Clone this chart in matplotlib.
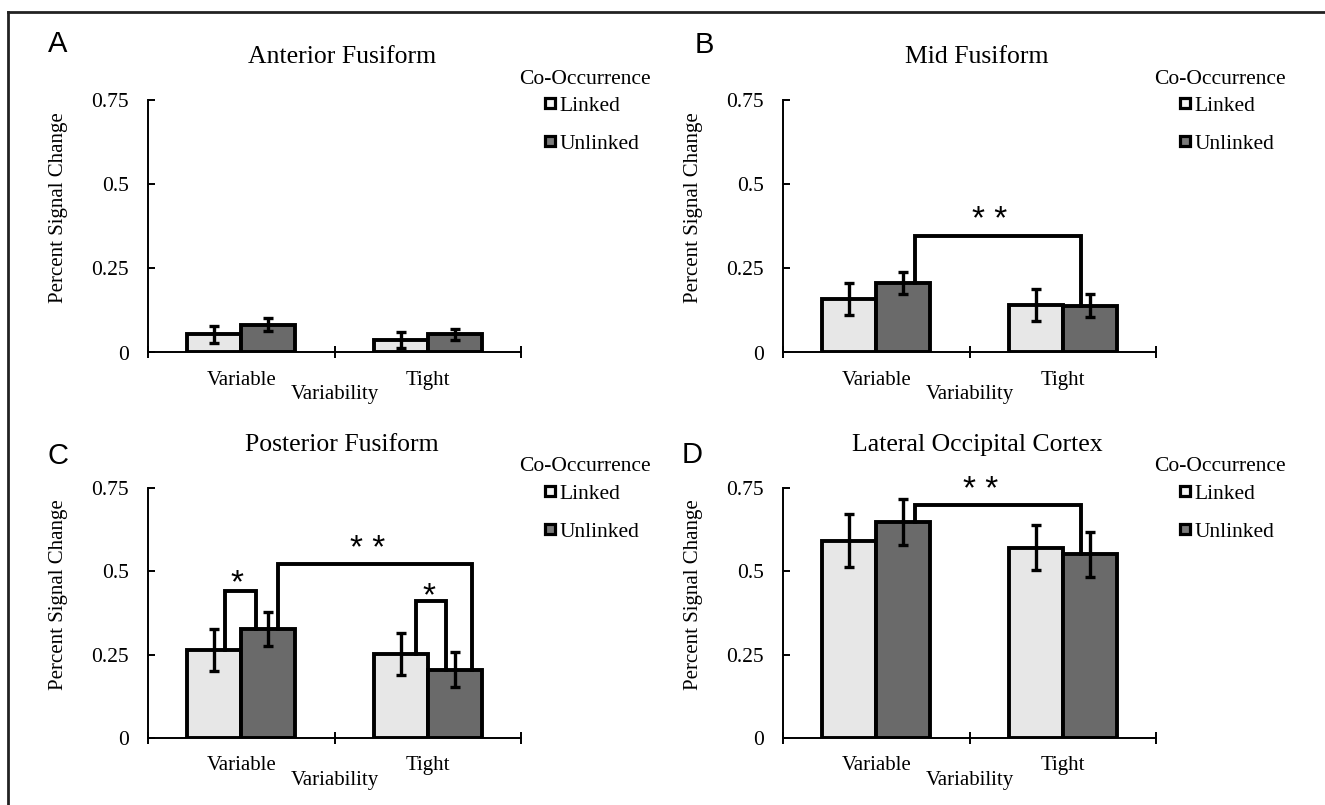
import matplotlib
matplotlib.use("Agg")
import matplotlib.pyplot as plt
from matplotlib.lines import Line2D
from matplotlib.transforms import offset_copy
import numpy as np

plt.rcParams['font.family'] = ['Liberation Serif', 'DejaVu Serif']

W, H = 1325, 805

groups = ["Variable", "Tight"]
conditions = ["Linked", "Unlinked"]
bar_colors = ["#e7e7e7", "#6a6a6a"]
legend_inner = ["#f4f4f4", "#7a7a7a"]

titles = ["Anterior Fusiform", "Mid Fusiform",
          "Posterior Fusiform", "Lateral Occipital Cortex"]
letters = ["A", "B", "C", "D"]

# mean percent signal change, order [Variable, Tight]
anterior_linked = [0.054, 0.037]
anterior_unlinked = [0.083, 0.054]
anterior_linked_err = [0.025, 0.025]
anterior_unlinked_err = [0.020, 0.017]

mid_linked = [0.159, 0.141]
mid_unlinked = [0.206, 0.139]
mid_linked_err = [0.047, 0.047]
mid_unlinked_err = [0.033, 0.035]

posterior_linked = [0.266, 0.253]
posterior_unlinked = [0.328, 0.206]
posterior_linked_err = [0.063, 0.063]
posterior_unlinked_err = [0.051, 0.053]

loc_linked = [0.592, 0.571]
loc_unlinked = [0.649, 0.551]
loc_linked_err = [0.079, 0.068]
loc_unlinked_err = [0.069, 0.068]

means = [(anterior_linked, anterior_unlinked), (mid_linked, mid_unlinked),
         (posterior_linked, posterior_unlinked), (loc_linked, loc_unlinked)]
errors = [(anterior_linked_err, anterior_unlinked_err),
          (mid_linked_err, mid_unlinked_err),
          (posterior_linked_err, posterior_unlinked_err),
          (loc_linked_err, loc_unlinked_err)]

# significance brackets: (x_left, x_right, height, left bar (cond, group),
# right bar (cond, group), label, label x, label y)
brackets = [
    [],
    [(0.709, 1.598, 0.345, (1, 0), (1, 1), "* *", 1.11, 0.426)],
    [(0.411, 0.577, 0.442, (0, 0), (1, 0), "*", 0.479, 0.495),
     (1.439, 1.600, 0.410, (0, 1), (1, 1), "*", 1.505, 0.458),
     (0.697, 1.738, 0.522, (1, 0), (1, 1), "* *", 1.18, 0.600)],
    [(0.709, 1.598, 0.698, (1, 0), (1, 1), "* *", 1.06, 0.776)],
]

yticks = [0, 0.25, 0.5, 0.75]
ytick_labels = ["0", "0.25", "0.5", "0.75"]

# axes boxes in pixels: left, top, width, height
ax_boxes = [(148, 100, 373, 252.5), (783, 100, 373, 252.5),
            (148, 488, 373, 250.3), (783, 488, 373, 250.3)]
letter_pos = [(58, 44), (704, 45), (58, 456), (692, 455)]

fig = plt.figure(figsize=(W / 100, H / 100), dpi=100)

bar_w = 0.29
centers = np.arange(len(groups)) + 0.5

for i in range(4):
    l, t, w, h = ax_boxes[i]
    ax = fig.add_axes([l / W, 1 - (t + h) / H, w / W, h / H])

    tops = []
    for c in range(2):
        x = centers + (c - 0.5) * bar_w
        ax.bar(x, means[i][c], width=bar_w, color=bar_colors[c],
               edgecolor="black", linewidth=2.8, zorder=2)
        ax.errorbar(x, means[i][c], yerr=errors[i][c], fmt="none",
                    ecolor="black", elinewidth=2.4, capsize=3.6,
                    capthick=2.4, zorder=4)
        tops.append(means[i][c])

    star_tr = offset_copy(ax.transData, fig=fig, y=-8, units="points")
    for x1, x2, hgt, b1, b2, lab, lx, ly in brackets[i]:
        y1 = tops[b1[0]][b1[1]]
        y2 = tops[b2[0]][b2[1]]
        ax.plot([x1, x1, x2, x2], [y1, hgt, hgt, y2], color="black",
                lw=2.8, solid_joinstyle="miter", zorder=3, clip_on=False)
        ax.text(lx, ly, lab, transform=star_tr, ha="center", va="center",
                fontsize=24, family=["Liberation Sans", "DejaVu Sans"])

    ax.set_xlim(0, 2)
    ax.set_ylim(0, 0.75)
    ax.set_yticks(yticks)
    ax.set_yticklabels(ytick_labels, fontsize=15.5)
    ax.set_xticks([0, 1, 2])
    ax.set_xticklabels([])
    ax.set_xticks(centers, minor=True)
    ax.set_xticklabels(groups, minor=True, fontsize=15)
    ax.tick_params(axis="x", which="major", direction="inout", length=9,
                   width=1.4)
    ax.tick_params(axis="x", which="minor", length=0, pad=13)
    ax.tick_params(axis="y", direction="in", length=5, width=1.4, pad=14)
    for s in ["top", "right"]:
        ax.spines[s].set_visible(False)
    for s in ["left", "bottom"]:
        ax.spines[s].set_linewidth(1.4)

    ax.set_xlabel("Variability", fontsize=15, va="center")
    ax.xaxis.set_label_coords(0.5, -0.168)
    ax.set_ylabel("Percent Signal Change", fontsize=15, va="center")
    ax.yaxis.set_label_coords(-0.241, 0.575)

    ax.set_title(titles[i], fontsize=18.5, x=0.52, y=1.17, pad=0,
                 va="center")

    ax.text(1.172, 1 + 21 / h, "Co-Occurrence", transform=ax.transAxes,
            ha="center", va="center", fontsize=15.5)
    handles = [Line2D([], [], ls="none", marker="s", markersize=7,
                      markerfacecolor=legend_inner[c],
                      markeredgecolor="black", markeredgewidth=2.3)
               for c in range(2)]
    ax.legend(handles, conditions, loc="upper left",
              bbox_to_anchor=(1.060, 1.018), frameon=False, fontsize=15.5,
              borderpad=0, borderaxespad=0, handlelength=0.6,
              handletextpad=0.15, labelspacing=0.85)

    fig.text(letter_pos[i][0] / W, 1 - letter_pos[i][1] / H, letters[i],
             ha="center", va="center", fontsize=21,
             family=["Liberation Sans", "DejaVu Sans"])

# frame lines along the top and left edge
fig.add_artist(Line2D([8 / W, 1], [1 - 12 / H, 1 - 12 / H], color="#222222",
                      lw=2, transform=fig.transFigure))
fig.add_artist(Line2D([8 / W, 8 / W], [0, 1 - 12 / H], color="#222222",
                      lw=2, transform=fig.transFigure))

fig.savefig("out.png", dpi=100)
